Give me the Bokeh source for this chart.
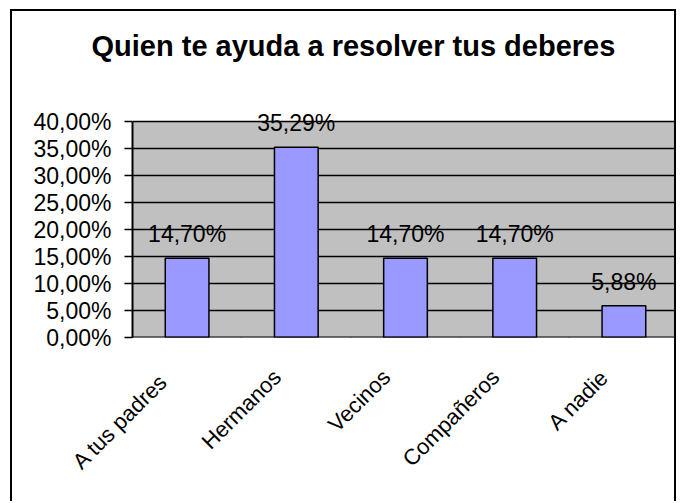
import math
from bokeh.plotting import figure
from bokeh.models import (Range1d, FixedTicker, LinearAxis, LabelSet, BoxAnnotation, Title,
                          ColumnDataSource, CustomLabelingPolicy)
from bokeh.core.properties import value
from bokeh.embed import file_html
from bokeh.resources import INLINE

# ---- data ----
categories = ["A tus  padres", "Hermanos", "Vecinos", "Compañeros", "A nadie"]
shares = [0.1470, 0.3529, 0.1470, 0.1470, 0.0588]
share_labels = ["14,70%", "35,29%", "14,70%", "14,70%", "5,88%"]
y_ticks = [0.0, 0.05, 0.10, 0.15, 0.20, 0.25, 0.30, 0.35, 0.40]
y_tick_labels = ["0,00%", "5,00%", "10,00%", "15,00%", "20,00%", "25,00%", "30,00%", "35,00%", "40,00%"]
y_axis_min, y_axis_max = 0.0, 0.40
title_text = "Quien te ayuda a resolver tus  deberes"

FONT = "Liberation Sans"

# synthetic x coordinates of the categorical range: factor i spans [i, i+1]
category_edges = list(range(len(categories) + 1))
label_shift = 0.175   # rotated labels end a little left of each category centre
label_ticks = [i + 0.5 - label_shift for i in range(len(categories))]

src = ColumnDataSource(dict(cat=categories, share=shares, lab=share_labels))

p = figure(x_range=categories, y_range=Range1d(y_axis_min, 0.4898),
           width=666, height=492, output_backend="svg", toolbar_location=None,
           x_axis_location=None, y_axis_location="left",
           min_border_left=120, min_border_right=0, min_border_top=62, min_border_bottom=166)
p.x_range.range_padding = 0
p.styles = {"border-top": "2px solid black", "border-left": "2px solid black",
            "border-right": "2px solid black",
            "margin-left": "10px", "margin-top": "9px"}

p.background_fill_color = "white"
p.border_fill_color = "white"
p.outline_line_color = None

# title
p.add_layout(Title(text=title_text, align="left", offset=-41, standoff=24, vertical_align="bottom",
                   text_font=FONT, text_font_size="29px", text_font_style="bold",
                   text_color="black"), "above")

# grey plot area (0 .. 40%)
p.add_layout(BoxAnnotation(bottom=y_axis_min, top=y_axis_max, fill_color="#C0C0C0", fill_alpha=1,
                           line_color="#808080", line_width=1, level="image"))

# y axis
ya = p.yaxis[0]
ya.bounds = (y_axis_min, y_axis_max)
ya.ticker = FixedTicker(ticks=y_ticks)
ya.major_label_overrides = dict(zip(y_ticks, y_tick_labels))
ya.major_label_text_font = FONT
ya.major_label_text_font_size = "23px"
ya.major_label_text_color = "black"
ya.major_tick_out = 8
ya.major_tick_in = 0
ya.minor_tick_out = 0
ya.minor_tick_in = 0
ya.major_tick_line_color = "black"
ya.major_tick_line_width = 1.5
ya.axis_line_color = "black"
ya.axis_line_width = 2
ya.major_label_standoff = 13

# grid
p.xgrid.visible = False
p.ygrid.ticker = FixedTicker(ticks=y_ticks)
p.ygrid.grid_line_color = "black"
p.ygrid.grid_line_width = 1.5

# category label axis (closest to the frame), rotated labels
label_axis = LinearAxis(ticker=FixedTicker(ticks=label_ticks),
                        major_label_overrides=dict(zip(label_ticks, categories)),
                        major_label_orientation=math.pi / 4, major_label_standoff=36,
                        major_label_text_font=FONT, major_label_text_font_size="22px",
                        major_label_text_color="black",
                        major_tick_out=0, major_tick_in=0, minor_tick_out=0, minor_tick_in=0,
                        axis_line_color=None, major_tick_line_color=None)
p.add_layout(label_axis, "below")

# x axis line with ticks at category boundaries, no labels of its own
tick_axis = LinearAxis(ticker=FixedTicker(ticks=category_edges), fixed_location=y_axis_min,
                       major_label_policy=CustomLabelingPolicy(code=""),
                       major_label_text_font_size="10px", major_label_standoff=0,
                       major_tick_out=8, major_tick_in=0, minor_tick_out=0, minor_tick_in=0,
                       axis_line_color="black", axis_line_width=2,
                       major_tick_line_color="black", major_tick_line_width=1.5)
p.add_layout(tick_axis, "below")

# bars
p.vbar(x="cat", top="share", width=0.4, bottom=0, source=src,
       fill_color="#9999FF", line_color="black", line_width=1.5)

# value labels above bars
p.add_layout(LabelSet(x="cat", y="share", text="lab", source=src, y_offset=16,
                      text_align="center", text_baseline="alphabetic",
                      text_font=value(FONT), text_font_size="23px", text_color="black"))

open("out.html", "w").write(file_html(p, INLINE))
